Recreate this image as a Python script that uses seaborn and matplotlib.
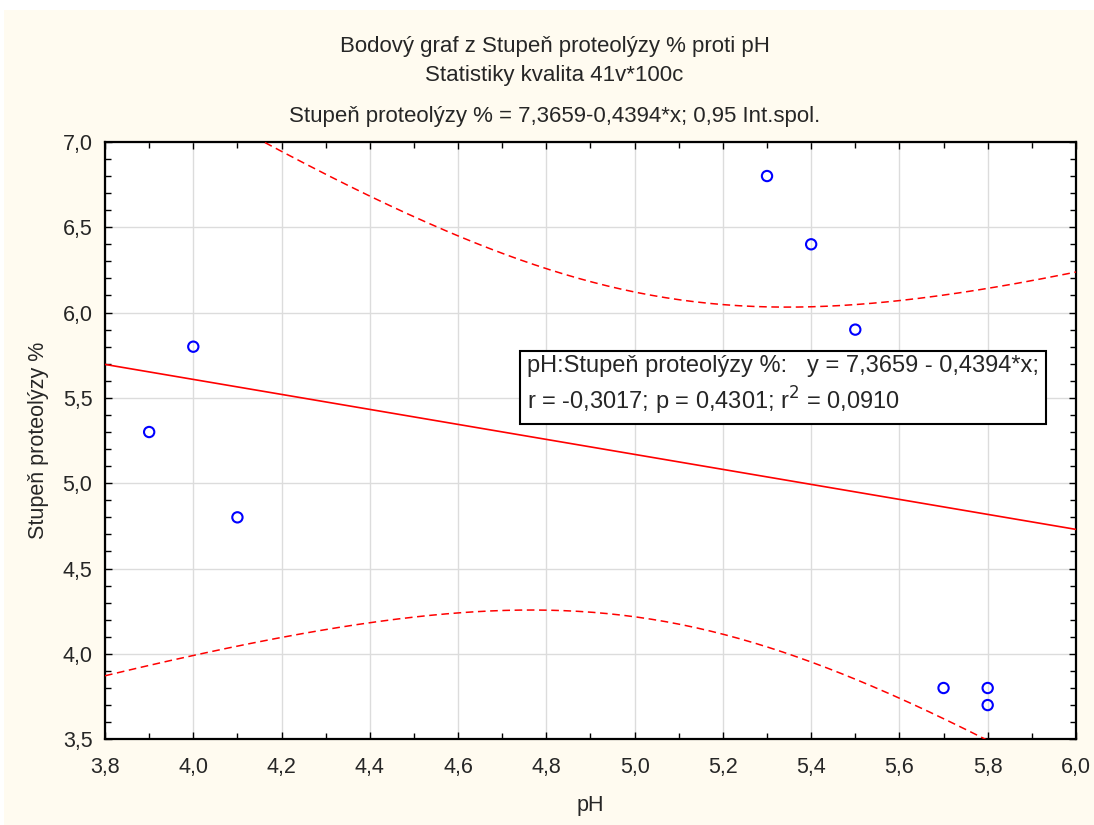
import numpy as np
import pandas as pd
import matplotlib
matplotlib.use("Agg")
import matplotlib.pyplot as plt
import seaborn as sns
from matplotlib.ticker import MultipleLocator, FuncFormatter

# data
ph = [3.9, 4.0, 4.1, 5.3, 5.4, 5.5, 5.7, 5.8, 5.8]
proteolyza = [5.3, 5.8, 4.8, 6.8, 6.4, 5.9, 3.8, 3.8, 3.7]

title_lines = ["Bodový graf z Stupeň proteolýzy % proti pH",
               "Statistiky kvalita 41v*100c",
               "Stupeň proteolýzy % = 7,3659-0,4394*x; 0,95 Int.spol."]
box_text = ("pH:Stupeň proteolýzy %:   y = 7,3659 - 0,4394*x;\n"
            "r = -0,3017; p = 0,4301; r$^2$ = 0,0910")

df = pd.DataFrame({"pH": ph, "Stupeň proteolýzy %": proteolyza})

# linear fit + 95% confidence band for the mean
x = df["pH"].values
y = df["Stupeň proteolýzy %"].values
n = len(x)
b, a = np.polyfit(x, y, 1)
resid = y - (a + b * x)
s = np.sqrt(np.sum(resid ** 2) / (n - 2))
t_crit = 2.3646  # t(0.975, 7)
xs = np.linspace(3.8, 6.0, 200)
fit = a + b * xs
half = t_crit * s * np.sqrt(1 / n + (xs - x.mean()) ** 2 / np.sum((x - x.mean()) ** 2))

sns.set_style("white")
plt.rcParams['font.family'] = ['Liberation Sans', 'DejaVu Sans']

fig = plt.figure(figsize=(10.94, 8.25), dpi=100)
fig.patch.set_facecolor("white")
fig.patches.append(plt.Rectangle((0.004, 0.0), 0.996, 0.988, transform=fig.transFigure,
                                 facecolor="#fffbf0", edgecolor="none", zorder=-10))
ax = fig.add_axes([0.096, 0.104, 0.8875, 0.724])
ax.set_facecolor("white")

ax.plot(xs, fit, color="red", lw=1.2, zorder=3)
ax.plot(xs, fit + half, color="red", lw=1.1, ls=(0, (5, 3)), zorder=3)
ax.plot(xs, fit - half, color="red", lw=1.1, ls=(0, (5, 3)), zorder=3)
sns.scatterplot(data=df, x="pH", y="Stupeň proteolýzy %", ax=ax, marker="o",
                s=55, facecolor="none", edgecolor="blue", linewidth=1.5, zorder=4)

ax.set_xlim(3.8, 6.0)
ax.set_ylim(3.5, 7.0)
ax.xaxis.set_major_locator(MultipleLocator(0.2))
ax.xaxis.set_minor_locator(MultipleLocator(0.1))
ax.yaxis.set_major_locator(MultipleLocator(0.5))
ax.yaxis.set_minor_locator(MultipleLocator(0.1))
fmt = FuncFormatter(lambda v, p: f"{v:.1f}".replace(".", ","))
ax.xaxis.set_major_formatter(fmt)
ax.yaxis.set_major_formatter(fmt)
ax.tick_params(which="both", direction="in", top=True, right=True, bottom=True, left=True,
               color="black", labelsize=15.5)
ax.tick_params(axis="x", pad=13)
ax.tick_params(axis="y", pad=9)
ax.tick_params(which="major", length=5, width=1)
ax.tick_params(which="minor", length=4, width=1)
ax.grid(True, which="major", color="#dcdcdc", lw=1)
for sp in ax.spines.values():
    sp.set_visible(True)
    sp.set_color("black")
    sp.set_linewidth(1.6)

ax.set_xlabel("pH", fontsize=15.5, labelpad=12)
ax.set_ylabel("Stupeň proteolýzy %", fontsize=15.5, labelpad=10)

title_y = [0.944, 0.908, 0.859]
for line, ty in zip(title_lines, title_y):
    fig.text(0.507, ty, line, ha="center", va="center", fontsize=16)

ax.text(4.757, 5.57, box_text, fontsize=17, va="center", ha="left", linespacing=1.28,
        bbox=dict(boxstyle="square,pad=0.3", facecolor="white", edgecolor="black", lw=1.5),
        zorder=5)

fig.savefig("out.png", dpi=100, facecolor=fig.get_facecolor())
